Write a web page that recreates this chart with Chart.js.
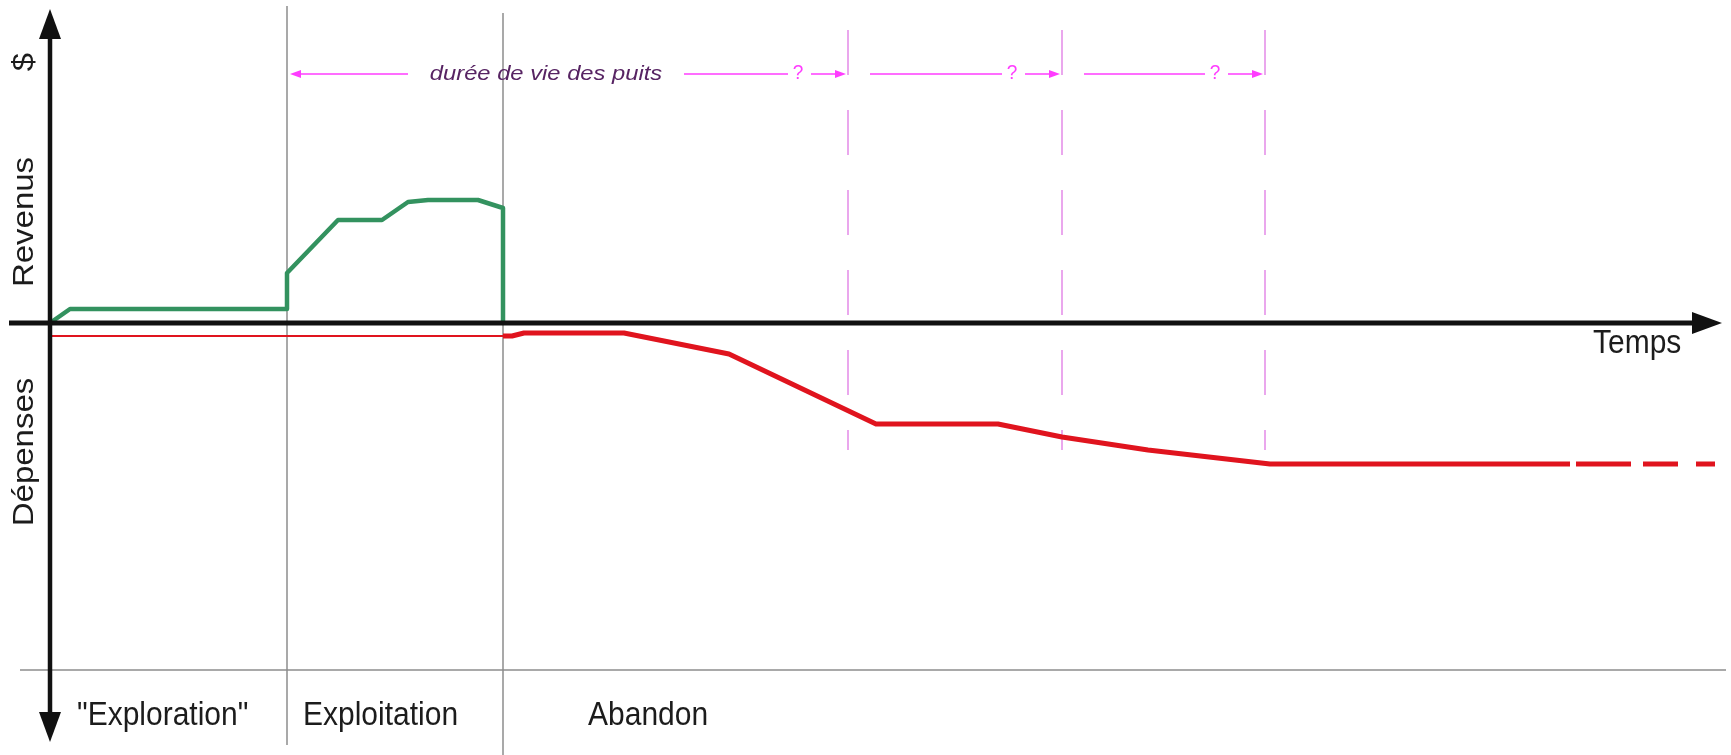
<!DOCTYPE html>
<html lang="fr">
<head>
<meta charset="utf-8">
<title>Cycle de vie des puits</title>
<script src="https://cdn.jsdelivr.net/npm/chart.js@4.4.1/dist/chart.umd.min.js"></script>
<style>
  html, body { margin: 0; padding: 0; background: #fff; }
  canvas { display: block; }
</style>
</head>
<body>
<canvas id="cycleChart" width="1731" height="755"></canvas>
<script>
// Revenus (courbe verte) : temps / montant
const revenusT = [0, 2, 23.7, 23.7, 28.8, 33.2, 35.8, 37.8, 42.8, 45.3, 45.3];
const revenusV = [0, 1.4, 1.4, 5.0, 10.3, 10.3, 12.1, 12.3, 12.3, 11.5, 0];

// Dépenses pendant exploration + exploitation (trait fin)
const depensesT = [0.2, 45.3];
const depensesV = [-1.3, -1.3];

// Dépenses d'abandon (trait épais, pointillé sur le dernier bout)
const abandonT = [45.3, 46.2, 47.4, 57.4, 67.9, 82.6, 94.8, 101.2, 109.8, 122, 152, 166.5];
const abandonV = [-1.3, -1.3, -1.0, -1.0, -3.1, -10.1, -10.1, -11.4, -12.7, -14.1, -14.1, -14.1];

// Début des phases et fins possibles de la durée de vie
const phases = [0, 23.7, 45.3];
const phaseLabels = ['"Exploration"', 'Exploitation', 'Abandon'];
const finsPossibles = [79.8, 101.2, 121.5];

const zip = (t, v) => t.map((x, i) => ({ x: x, y: v[i] }));

const FONT = '"Liberation Sans", Arial, Helvetica, sans-serif';
const MAGENTA = '#ff3cff';

function texte(ctx, str, x, y, o) {
  ctx.save();
  ctx.translate(x, y);
  ctx.scale(o.sx || 1, 1.1); // l'image d'origine est un peu étirée en hauteur
  if (o.rot) ctx.rotate(o.rot);
  ctx.font = o.font;
  ctx.fillStyle = o.color || '#1c1c1c';
  ctx.textAlign = o.align || 'center';
  ctx.textBaseline = o.base || 'middle';
  ctx.fillText(str, 0, 0);
  ctx.restore();
}

// trait + pointe de flèche pleine en (x2, y2)
function fleche(ctx, x1, y1, x2, y2, len, half) {
  const a = Math.atan2(y2 - y1, x2 - x1);
  const c = Math.cos(a), s = Math.sin(a);
  ctx.beginPath();
  ctx.moveTo(x1, y1);
  ctx.lineTo(x2 - c * len * 0.7, y2 - s * len * 0.7);
  ctx.stroke();
  ctx.beginPath();
  ctx.moveTo(x2, y2);
  ctx.lineTo(x2 - c * len + s * half, y2 - s * len - c * half);
  ctx.lineTo(x2 - c * len - s * half, y2 - s * len + c * half);
  ctx.closePath();
  ctx.fill();
}

function ligne(ctx, x1, y1, x2, y2) {
  ctx.beginPath();
  ctx.moveTo(x1, y1);
  ctx.lineTo(x2, y2);
  ctx.stroke();
}

const decor = {
  id: 'decor',
  beforeDatasetsDraw(chart) {
    const ctx = chart.ctx;
    const sx = v => chart.scales.x.getPixelForValue(v);
    const sy = v => chart.scales.y.getPixelForValue(v);
    ctx.save();

    // séparations des phases (gris)
    ctx.strokeStyle = '#8c8c8c';
    ctx.lineWidth = 1.5;
    ligne(ctx, sx(phases[1]), sy(31.7), sx(phases[1]), sy(-42.2));
    ligne(ctx, sx(phases[2]), sy(31.0), sx(phases[2]), sy(-43.2));
    ligne(ctx, sx(-3), sy(-34.7), sx(167.6), sy(-34.7));

    // fins possibles (tirets magenta)
    ctx.strokeStyle = '#e48ae8';
    ctx.setLineDash([45, 35]);
    finsPossibles.forEach(t => ligne(ctx, sx(t), sy(29.3), sx(t), sy(-12.7)));
    ctx.setLineDash([]);

    // rangée "durée de vie des puits"
    const yr = sy(24.9);
    ctx.strokeStyle = MAGENTA;
    ctx.fillStyle = MAGENTA;
    ctx.lineWidth = 1.5;
    const x0 = sx(phases[1]);
    fleche(ctx, x0 + 121, yr, x0 + 3, yr, 11, 4);
    texte(ctx, 'durée de vie des puits', x0 + 259, yr, {
      font: 'italic 19px ' + FONT, color: '#572463', sx: 1.25
    });
    let debut = x0 + 397;
    finsPossibles.forEach(t => {
      const d = sx(t);
      ligne(ctx, debut, yr, d - 60, yr);
      texte(ctx, '?', d - 50, yr - 1, { font: '19px ' + FONT, color: MAGENTA });
      fleche(ctx, d - 37, yr, d - 2, yr, 11, 4);
      debut = d + 22;
    });

    // libellés des phases
    const decal = [27, 16, 85];
    phaseLabels.forEach((lab, i) => {
      texte(ctx, lab, sx(phases[i]) + decal[i], sy(-40.2), {
        font: '30px ' + FONT, align: 'left', base: 'alphabetic'
      });
    });
    ctx.restore();
  },
  afterDatasetsDraw(chart) {
    const ctx = chart.ctx;
    const sx = v => chart.scales.x.getPixelForValue(v);
    const sy = v => chart.scales.y.getPixelForValue(v);
    ctx.save();
    ctx.strokeStyle = '#111';
    ctx.fillStyle = '#111';

    // axe du temps
    ctx.lineWidth = 5;
    fleche(ctx, sx(-4.1), sy(0), sx(167.2), sy(0), 30, 11);
    // axe des montants, double flèche
    ctx.lineWidth = 4.5;
    fleche(ctx, sx(0), sy(0), sx(0), sy(31.4), 30, 11);
    fleche(ctx, sx(0), sy(0), sx(0), sy(-41.9), 30, 11);

    texte(ctx, 'Temps', sx(154.3), sy(-3.0), {
      font: '30px ' + FONT, align: 'left', base: 'alphabetic'
    });
    const xl = sx(0) - 25;
    const rot = -Math.PI / 2;
    texte(ctx, '$', xl, sy(26.1), { font: '30px ' + FONT, rot: rot });
    texte(ctx, 'Revenus', xl, sy(10.1), { font: '30px ' + FONT, rot: rot });
    texte(ctx, 'Dépenses', xl, sy(-12.9), { font: '30px ' + FONT, rot: rot });
    ctx.restore();
  }
};

const ctx = document.getElementById('cycleChart').getContext('2d');
const lastSeg = abandonT.length - 1;

new Chart(ctx, {
  type: 'scatter',
  data: {
    datasets: [
      {
        label: 'Revenus',
        data: zip(revenusT, revenusV),
        showLine: true,
        borderColor: '#33925f',
        borderWidth: 4.5,
        borderJoinStyle: 'round',
        pointRadius: 0
      },
      {
        label: 'Dépenses',
        data: zip(depensesT, depensesV),
        showLine: true,
        borderColor: '#e0141e',
        borderWidth: 2,
        pointRadius: 0
      },
      {
        label: 'Abandon',
        data: zip(abandonT, abandonV),
        showLine: true,
        borderColor: '#e0141e',
        borderWidth: 5,
        borderJoinStyle: 'round',
        pointRadius: 0,
        segment: {
          borderDash: c => c.p1DataIndex === lastSeg ? [0, 6, 55, 12, 35, 18, 19, 60] : undefined
        }
      }
    ]
  },
  options: {
    responsive: false,
    animation: false,
    layout: { padding: 0 },
    plugins: {
      legend: { display: false },
      tooltip: { enabled: false }
    },
    scales: {
      x: { type: 'linear', display: false, min: -5, max: 168.1 },
      y: { type: 'linear', display: false, min: -43.2, max: 32.3 }
    }
  },
  plugins: [decor]
});
</script>
</body>
</html>
